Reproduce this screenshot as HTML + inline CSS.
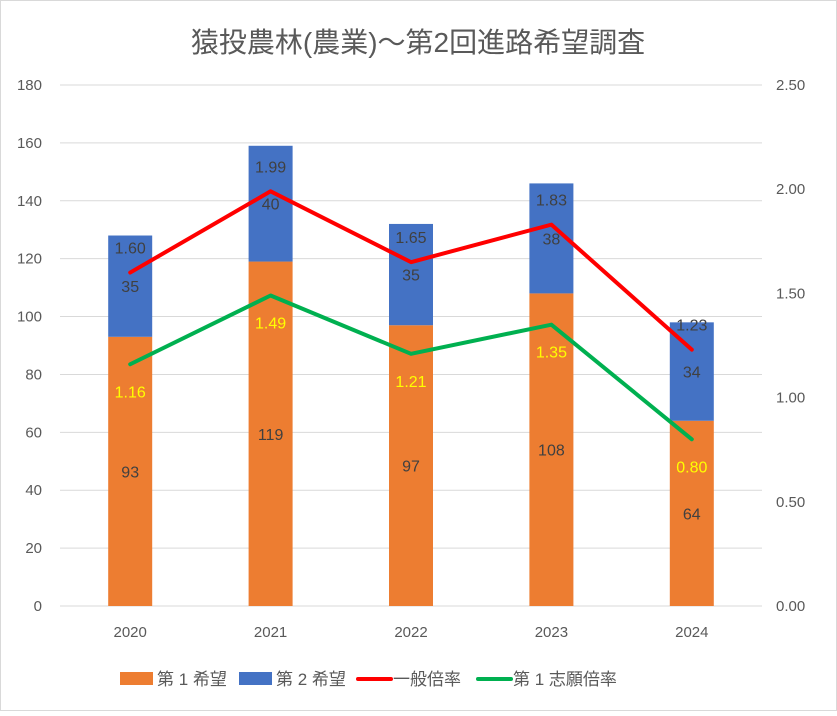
<!DOCTYPE html>
<html><head><meta charset="utf-8"><style>
body{margin:0;background:#fff;}
svg text{font-family:"Liberation Sans","Noto Sans CJK JP",sans-serif;}
</style></head><body>
<svg id="c" width="837" height="711" xmlns="http://www.w3.org/2000/svg">
<rect x="0.5" y="0.5" width="836" height="710" fill="#fff" stroke="#d9d9d9"/>
<text x="418" y="52" text-anchor="middle" font-size="28" fill="#595959">猿投農林(農業)～第2回進路希望調査</text>
<g id="g"></g>
<g font-size="17" fill="#595959">
<rect x="120" y="672" width="33" height="13" fill="#ED7D31"/>
<text x="157" y="685">第 1 希望</text>
<rect x="239" y="672" width="33" height="13" fill="#4472C4"/>
<text x="276" y="685">第 2 希望</text>
<line x1="358" y1="679" x2="391" y2="679" stroke="#FF0000" stroke-width="4" stroke-linecap="round"/>
<text x="393" y="685">一般倍率</text>
<line x1="478" y1="679" x2="511" y2="679" stroke="#00B050" stroke-width="4" stroke-linecap="round"/>
<text x="513" y="685">第 1 志願倍率</text>
</g>
</svg>
<script>
const categories=["2020","2021","2022","2023","2024"];
const first=[93,119,97,108,64];
const second=[35,40,35,38,34];
const general=[1.60,1.99,1.65,1.83,1.23];
const firstRatio=[1.16,1.49,1.21,1.35,0.80];
const leftTicks=[0,20,40,60,80,100,120,140,160,180];
const rightTicks=["0.00","0.50","1.00","1.50","2.00","2.50"];
const NS="http://www.w3.org/2000/svg";
const g=document.getElementById('g');
const X0=60,X1=762,Y0=606,Y1=85;
const yL=v=>Y0-(v/180)*(Y0-Y1);
const yR=v=>Y0-(v/2.5)*(Y0-Y1);
const bw=(X1-X0)/categories.length;
const xc=i=>X0+bw*(i+0.5);
function el(t,a){const e=document.createElementNS(NS,t);for(const k in a)e.setAttribute(k,a[k]);g.appendChild(e);return e;}
leftTicks.forEach(v=>{
 const l=el('line',{x1:X0,x2:X1,y1:yL(v),y2:yL(v),stroke:'#d9d9d9'});
 
 
 const t=el('text',{x:42,y:yL(v)+5,'text-anchor':'end','font-size':15,fill:'#595959'});t.textContent=v;
 
 
});
rightTicks.forEach(v=>{
 const t=el('text',{x:776,y:yR(+v)+5,'font-size':15,fill:'#595959'});t.textContent=v;
 
 
});
categories.forEach((c,i)=>{
 const x=xc(i);
 const r1=el('rect',{x:x-22,y:yL(first[i]),width:44,height:Y0-yL(first[i]),fill:'#ED7D31'});
 
 
 const r2=el('rect',{x:x-22,y:yL(first[i]+second[i]),width:44,height:yL(first[i])-yL(first[i]+second[i]),fill:'#4472C4'});
 
 
 const t1=el('text',{x:x,y:(yL(first[i])+Y0)/2+6,'text-anchor':'middle','font-size':16,fill:'#404040'});t1.textContent=first[i];
 
 
 const t2=el('text',{x:x,y:(yL(first[i])+yL(first[i]+second[i]))/2+6,'text-anchor':'middle','font-size':16,fill:'#404040'});t2.textContent=second[i];
 
 
 const ct=el('text',{x:x,y:Y0+31,'text-anchor':'middle','font-size':15,fill:'#595959'});ct.textContent=c;
 
 
});
function line(arr,col,name,dy,lc){
 const p=el('polyline',{points:arr.map((v,i)=>xc(i)+','+yR(v)).join(' '),fill:'none',stroke:col,'stroke-width':4,'stroke-linejoin':'round','stroke-linecap':'round'});
 
 
 arr.forEach((v,i)=>{
  const t=el('text',{x:xc(i),y:yR(v)+dy,'text-anchor':'middle','font-size':16,fill:lc});t.textContent=v.toFixed(2);
  
  
 });
}
line(general,'#FF0000','general-ratio-line',-19,'#404040');
line(firstRatio,'#00B050','first-ratio-line',33,'#FFFF00');
</script>
</body></html>
